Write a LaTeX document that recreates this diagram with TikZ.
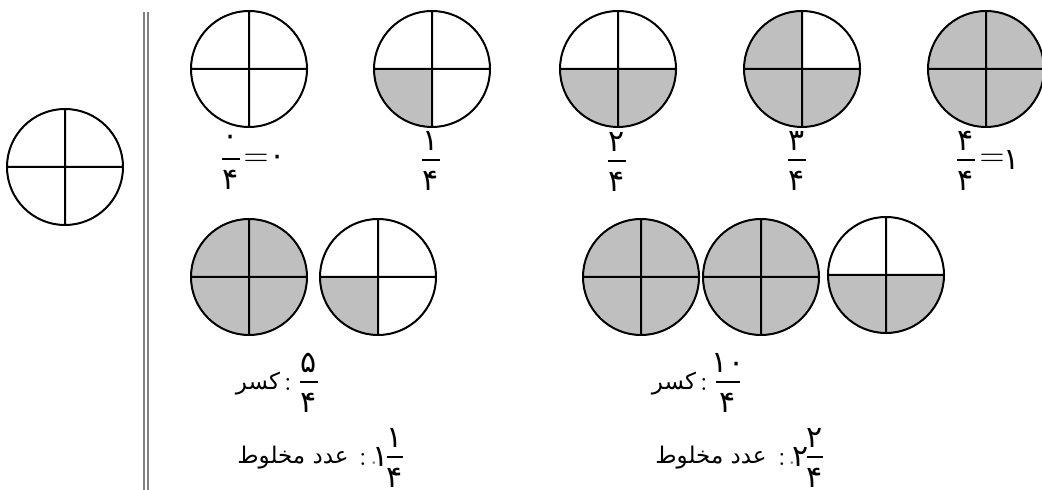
\documentclass[tikz,border=0pt]{standalone}
\usepackage{fontspec}
\usepackage{tikz}
\usetikzlibrary{calc}
\TeXXeTstate=1
\newfontfamily\arabicfont[Script=Arabic]{DejaVu Sans}

% name, x, y, numerator, denominator, half bar width
\newcommand{\pfr}[6]{%
  \coordinate (#1) at (#2,#3);
  \draw[bar] ($(#1)+(-#6,0)$) -- ($(#1)+(#6,0)$);
  \node[dig] (#1n) at ($(#1)+(0,-19)$) {#4};
  \node[dig] (#1d) at ($(#1)+(0,21)$) {#5};}
\newcommand{\shadeq}[2]{\fill[part] (#1.center) -- ++(#2:29pt) arc[start angle=#2, delta angle=90, radius=29pt] -- cycle;}
\newcommand{\rimpie}[1]{\draw[rim] (#1.center) circle[radius=29pt] (#1.north) -- (#1.south) (#1.west) -- (#1.east);}

\begin{document}
\begin{tikzpicture}[
            x=0.5pt, y=-0.5pt,
            pie/.style={circle,minimum size=58pt,inner sep=0pt,outer sep=0pt},
            rim/.style={line width=1pt},
            part/.style={fill=gray!50},
            rule/.style={gray,line width=1pt},
            bar/.style={line width=0.6pt},
            dig/.style={font=\fontsize{15}{18}\selectfont\arabicfont,inner sep=0pt},
            word/.style={font=\fontsize{11.5}{14}\selectfont\arabicfont,inner sep=0pt},
            sign/.style={font=\fontsize{14}{17}\selectfont,inner sep=0pt}
        ]
            \useasboundingbox (0,0) rectangle (1042,490);

            % blank disk at the left and the double rule
            \node[pie] (w) at (65,167) {};
            \rimpie{w}
            \coordinate (r1) at (144,12);
            \coordinate (r2) at (148,12);
            \draw[rule] (r1) -- ++(0,478);
            \draw[rule] (r2) -- ++(0,478);

            % top row: 0/4 ... 4/4
            \node[pie] (t0) at (249,69) {};
            \node[pie] (t1) at (432,69) {};
            \node[pie] (t2) at (618,69) {};
            \node[pie] (t3) at (802,69) {};
            \node[pie] (t4) at (986,69) {};
            \shadeq{t1}{180}
            \foreach \a in {180,270} {\shadeq{t2}{\a}}
            \foreach \a in {90,180,270} {\shadeq{t3}{\a}}
            \foreach \a in {0,90,180,270} {\shadeq{t4}{\a}}
            \foreach \p in {t0,t1,t2,t3,t4} {\rimpie{\p}}

            \pfr{f0}{231}{159}{۰}{۴}{9}
            \node[sign,font=\fontsize{16}{19}\selectfont] (e0) at (256,160) {$=$};
            \node[dig] (v0) at (278,160) {۰};
            \pfr{f1}{431}{160}{۱}{۴}{9}
            \pfr{f2}{617}{161}{۲}{۴}{9}
            \pfr{f3}{797}{160}{۳}{۴}{9}
            \pfr{f4}{966}{160}{۴}{۴}{9}
            \node[sign,font=\fontsize{16}{19}\selectfont] (e4) at (992,160) {$=$};
            \node[dig] (v4) at (1012,160) {۱};

            % bottom left: 5/4
            \node[pie] (a1) at (249,277) {};
            \node[pie] (a2) at (378,277) {};
            \foreach \a in {0,90,180,270} {\shadeq{a1}{\a}}
            \shadeq{a2}{180}
            \foreach \p in {a1,a2} {\rimpie{\p}}

            \node[word] (k1) at (258,384) {\beginR کسر\endR};
            \node[sign] (c1) at (288,384) {:};
            \pfr{g1}{309}{382}{۵}{۴}{9}
            \node[word] (m1) at (293,458) {\beginR عدد مخلوط\endR};
            \node[sign] (c3) at (363,459) {:};
            \node[sign,gray] (d1) at (374,463) {.};
            \node[dig] (i1) at (381,457) {۱};
            \pfr{h1}{395}{457}{۱}{۴}{8}

            % bottom right: 10/4
            \node[pie] (b1) at (641,277) {};
            \node[pie] (b2) at (761,277) {};
            \node[pie] (b3) at (886,275) {};
            \foreach \a in {0,90,180,270} {\shadeq{b1}{\a} \shadeq{b2}{\a}}
            \foreach \a in {180,270} {\shadeq{b3}{\a}}
            \foreach \p in {b1,b2,b3} {\rimpie{\p}}

            \node[word] (k2) at (674,384) {\beginR کسر\endR};
            \node[sign] (c2) at (704,384) {:};
            \pfr{g2}{728}{382}{۱۰}{۴}{12}
            \node[word] (m2) at (711,458) {\beginR عدد مخلوط\endR};
            \node[sign] (c4) at (782,459) {:};
            \node[sign,gray] (d2) at (792,463) {.};
            \node[dig] (i2) at (801,457) {۲};
            \pfr{h2}{815}{457}{۲}{۴}{8}
        \end{tikzpicture}
\end{document}
